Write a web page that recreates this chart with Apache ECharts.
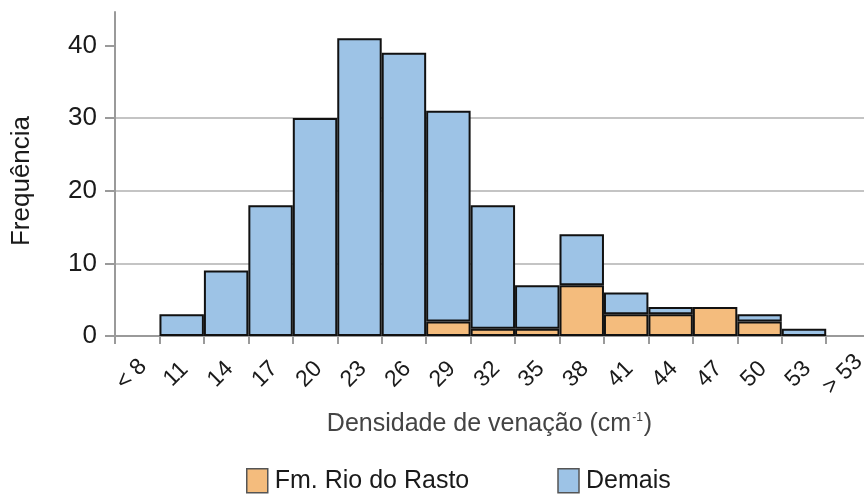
<!DOCTYPE html>
<html>
<head>
<meta charset="utf-8">
<script src="https://cdn.jsdelivr.net/npm/echarts@6/dist/echarts.min.js"></script>
<style>
  html, body { margin: 0; padding: 0; background: #ffffff; }
  #chart { width: 864px; height: 495px; }
</style>
</head>
<body>
<div id="chart"></div>
<script>
// Bin edge labels (17 edges -> 16 bins)
const edgeLabels = ['< 8', '11', '14', '17', '20', '23', '26', '29', '32', '35', '38', '41', '44', '47', '50', '53', '> 53'];
// Counts per bin
const rioDoRasto = [0, 0, 0, 0, 0, 0, 0, 2, 1, 1, 7, 3, 3, 4, 2, 0];
const demais     = [0, 3, 9, 18, 30, 41, 39, 29, 17, 6, 7, 3, 1, 0, 1, 1];
// Frequency axis ticks
const yTicks = [0, 10, 20, 30, 40];

const FONT = 'Liberation Sans, Arial, sans-serif';
const edgeIdx = edgeLabels.map((_, i) => i);
// rows are [count, bin centre]; the count comes first so that it is the stacked dimension
const toBins = arr => arr.map((v, i) => [v > 0 ? v : '-', i + 0.5]);

const chart = echarts.init(document.getElementById('chart'), null, { renderer: 'canvas' });

const barSeries = (name, values, color) => ({
  name,
  type: 'bar',
  stack: 'freq',
  barWidth: '100%',
  encode: { x: 1, y: 0 },
  data: toBins(values),
  itemStyle: { color, borderColor: '#111111', borderWidth: 2 }
});

chart.setOption({
  animation: false,
  backgroundColor: '#ffffff',
  textStyle: { fontFamily: FONT },
  grid: { left: 115, right: 0, top: 12, bottom: 159, outerBoundsMode: 'none' },
  legend: {
    left: 246,
    top: 468,
    padding: 0,
    icon: 'rect',
    itemWidth: 21,
    itemHeight: 24,
    itemGap: 88,
    textStyle: { fontFamily: FONT, fontSize: 25, color: '#1a1a1a', padding: [0, 0, 0, 2] },
    itemStyle: { borderColor: '#555555', borderWidth: 1.5 },
    data: ['Fm. Rio do Rasto', 'Demais']
  },
  xAxis: {
    type: 'value',
    min: 0,
    max: 16.85,
    interval: 1,
    name: 'Densidade de venação (cm{sup|-1})',
    nameLocation: 'middle',
    nameGap: 76,
    nameMoveOverlap: false,
    nameTextStyle: {
      fontFamily: FONT, fontSize: 25, color: '#444444',
      rich: { sup: { fontFamily: FONT, fontSize: 12, color: '#444444', verticalAlign: 'top', padding: [0, 1, 12, 1] } }
    },
    axisLine: { show: true, lineStyle: { color: '#9a9a9a', width: 2 } },
    axisTick: { show: true, inside: false, length: 8, customValues: edgeIdx, lineStyle: { color: '#9a9a9a', width: 2 } },
    axisLabel: {
      customValues: edgeIdx,
      formatter: v => edgeLabels[Math.round(v)],
      rotate: 45,
      align: 'center',
      verticalAlign: 'middle',
      margin: 55,
      padding: [47, 0, 0, 47],
      fontFamily: FONT,
      fontSize: 23,
      color: '#1a1a1a'
    },
    splitLine: { show: false }
  },
  yAxis: {
    type: 'value',
    min: 0,
    max: 44.6,
    interval: 10,
    name: 'Frequência',
    nameLocation: 'middle',
    nameGap: 80,
    nameMoveOverlap: false,
    nameRotate: 90,
    nameTextStyle: { fontFamily: FONT, fontSize: 26, color: '#1a1a1a', padding: [0, 14, 0, 0] },
    axisLine: { show: true, lineStyle: { color: '#9a9a9a', width: 2 } },
    axisTick: { show: true, inside: false, length: 10, customValues: yTicks, lineStyle: { color: '#9a9a9a', width: 2 } },
    axisLabel: { customValues: yTicks, margin: 18, fontFamily: FONT, fontSize: 26, color: '#1a1a1a' },
    splitLine: { show: true, showMaxLine: false, showMinLine: false, lineStyle: { color: '#c4c4c4', width: 2 } }
  },
  series: [
    barSeries('Fm. Rio do Rasto', rioDoRasto, '#f4bc7d'),
    barSeries('Demais', demais, '#9dc3e6')
  ]
});
</script>
</body>
</html>
